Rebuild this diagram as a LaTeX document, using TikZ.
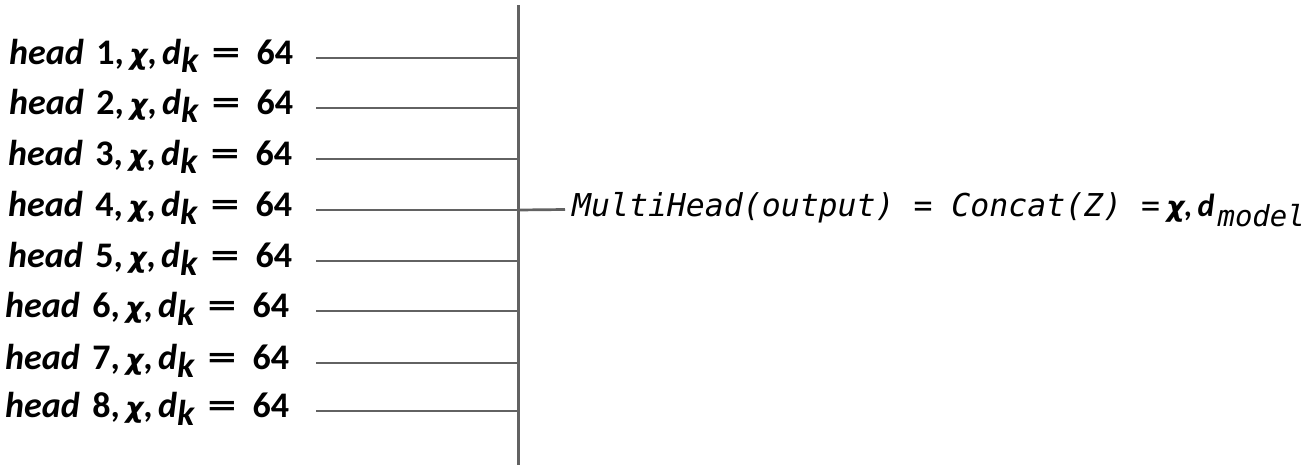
\documentclass[tikz,border=0pt]{standalone}
\usepackage{fontspec}
\setmainfont{Carlito}
\newfontfamily\monoit{DejaVu Sans Mono}[ItalicFont={DejaVu Sans Mono Oblique}]
\newfontfamily\chifont{DejaVu Sans}[BoldItalicFont={DejaVu Sans Bold Oblique}]
\definecolor{linegray}{RGB}{98,98,98}
\tikzset{
  conn/.style={draw=linegray, line width=2.7pt},
  headlbl/.style={anchor=base west, inner sep=0pt, font=\fontsize{36}{40}\selectfont\bfseries},
  outlbl/.style={anchor=base west, inner sep=0pt, font=\fontsize{31.5}{36}\selectfont},
}
\newcommand{\wideeq}{\scalebox{1.6}[1]{=}}
\newcommand{\chid}{\hspace{0.05em}{\chifont\bfseries\itshape\fontsize{28}{30}\selectfont χ},\hspace{0.15em}\textit{d}}
\newcommand{\headtext}[1]{\textit{head}\hspace{0.35em}#1,\hspace{0.1em}\chid\raisebox{-8pt}{\textit{k}}\hspace{0.35em}\wideeq\hspace{0.45em}64}
\begin{document}
\begin{tikzpicture}[x=1pt,y=-1pt]
\useasboundingbox (0,0) rectangle (1310,474);
% spine
\coordinate (top) at (518.5,5);
\coordinate (bot) at (518.5,465);
\draw[conn] (top) -- (bot);
% heads
\foreach \i/\y/\x in {1/58/9,2/108/9,3/159/8,4/210/8,5/261/8,6/311/5,7/363/5,8/411/5}{
  \node[headlbl] (h\i) at (\x,\y+6) {\headtext{\i}};
  \coordinate (s\i) at (316,\y);
  \coordinate (j\i) at (518.5,\y);
  \draw[conn] (s\i) -- (j\i);
}
% output
\coordinate (o) at (565,209.5);
\draw[conn] (j4) -- (o);
\node[outlbl] (out) at (572,216.5) {\monoit\itshape MultiHead(output) = Concat(Z) =\hspace{0.15em}{\rmfamily\bfseries\fontsize{32}{36}\selectfont \chid}\hspace{0.1em}\raisebox{-10pt}{\fontsize{29}{30}\selectfont model}};
\end{tikzpicture}
\end{document}
